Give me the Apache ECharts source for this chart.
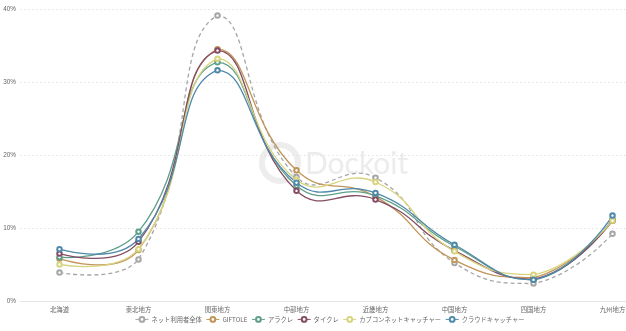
<!DOCTYPE html>
<html><head><meta charset="utf-8">
<script src="https://cdn.jsdelivr.net/npm/echarts@6/dist/echarts.min.js"></script>
<style>html,body{margin:0;padding:0;background:#fff}#c{width:626px;height:331px}</style>
</head><body><div id="c"></div>
<script>
const categories = ['北海道','東北地方','関東地方','中部地方','近畿地方','中国地方','四国地方','九州地方'];
const yTicks = [0, 10, 20, 30, 40];
const seriesNames = ['ネット利用者全体','GIFTOLE','アラクレ','タイクレ','カプコンネットキャッチャー','クラウドキャッチャー'];
const netAll   = [3.9, 5.7, 39.1, 17.0, 16.9, 5.2, 2.4, 9.2];
const giftole  = [5.8, 7.0, 34.5, 17.9, 14.3, 5.6, 3.2, 11.0];
const arakure  = [6.0, 9.5, 32.7, 15.8, 14.4, 7.5, 2.9, 11.2];
const taikure  = [6.5, 8.1, 34.3, 15.1, 13.9, 6.9, 3.0, 11.0];
const capcom   = [5.0, 7.1, 33.2, 16.6, 16.3, 6.8, 3.6, 11.0];
const cloud    = [7.1, 8.5, 31.6, 16.2, 14.8, 7.7, 2.9, 11.7];
const values = [netAll, giftole, arakure, taikure, capcom, cloud];
const colors = ['#a6a6a6', '#c0955a', '#5e9f8a', '#854c63', '#d8d47e', '#4f89aa'];
const SMOOTH = 0.5;

// classic (v4-style) smoothing path through pixel points
function smoothPathData(pts, smooth) {
  let minX = Infinity, minY = Infinity, maxX = -Infinity, maxY = -Infinity;
  pts.forEach(p => { minX = Math.min(minX, p[0]); maxX = Math.max(maxX, p[0]); minY = Math.min(minY, p[1]); maxY = Math.max(maxY, p[1]); });
  const clamp = c => [Math.min(Math.max(c[0], minX), maxX), Math.min(Math.max(c[1], minY), maxY)];
  let d = 'M' + pts[0][0] + ' ' + pts[0][1];
  let cp0 = pts[0].slice();
  for (let i = 1; i < pts.length; i++) {
    const p = pts[i], prev = pts[i - 1], next = pts[i + 1];
    let cp1, v = null, ratio = 0.5;
    if (!next) { cp1 = p.slice(); }
    else {
      v = [next[0] - prev[0], next[1] - prev[1]];
      const lp = Math.hypot(p[0] - prev[0], p[1] - prev[1]);
      const ln = Math.hypot(next[0] - p[0], next[1] - p[1]);
      ratio = ln / (ln + lp);
      cp1 = [p[0] - v[0] * smooth * (1 - ratio), p[1] - v[1] * smooth * (1 - ratio)];
    }
    const a = clamp(cp0), b = clamp(cp1);
    d += ' C' + a[0] + ' ' + a[1] + ' ' + b[0] + ' ' + b[1] + ' ' + p[0] + ' ' + p[1];
    if (v) cp0 = [p[0] + v[0] * smooth * ratio, p[1] + v[1] * smooth * ratio];
  }
  return d;
}

const lineSeries = seriesNames.map((n, i) => ({
  name: n, type: 'line', data: values[i],
  symbol: 'emptyCircle', symbolSize: 4.5, showSymbol: true,
  lineStyle: {width: 0, color: colors[i]},
  itemStyle: {color: colors[i], borderWidth: 0.8},
  z: 4
}));
const curveSeries = seriesNames.map((n, i) => ({
  name: n, type: 'custom',
  data: values[i].map((v, k) => [k, v]),
  encode: {x: 0, y: 1},
  z: 3, silent: true,
  renderItem: (params, api) => {
    if (params.dataIndex !== 0) return null;
    const pts = values[i].map((v, k) => api.coord([k, v]));
    return {
      type: 'path',
      shape: {pathData: smoothPathData(pts, SMOOTH)},
      style: {fill: 'none', stroke: colors[i], lineWidth: 1.3, lineDash: i === 0 ? [4, 3] : null}
    };
  }
}));

const chart = echarts.init(document.getElementById('c'), null, {renderer: 'canvas'});
chart.setOption({
  animation: false,
  backgroundColor: '#fff',
  color: colors,
  graphic: [
    {type: 'circle', shape: {cx: 280, cy: 163, r: 18}, style: {fill: 'none', stroke: '#ededed', lineWidth: 6}, z: 0},
    {type: 'text', left: 305, top: 149, style: {text: 'Dockoit', fontSize: 30, fontFamily: 'Lato', fill: '#ececec'}, z: 0}
  ],
  grid: {left: 20, right: -26, top: 9, bottom: 30, containLabel: false, outerBoundsMode: 'none'},
  legend: {
    top: 316, left: 135, padding: 0,
    itemWidth: 13, itemHeight: 6, itemGap: 4,
    textStyle: {fontSize: 6.3, color: '#666', fontFamily: 'Noto Sans CJK JP', padding: [0, 0, 0, -2]},
    data: seriesNames.map((n, i) => ({name: n, lineStyle: {width: 1, color: colors[i], opacity: 1, type: 'solid'}}))
  },
  xAxis: {
    type: 'category', data: categories, boundaryGap: true,
    axisLine: {lineStyle: {color: '#e4e4e4'}},
    axisTick: {show: false},
    axisLabel: {fontSize: 6.4, color: '#666', margin: 5, fontFamily: 'Noto Sans CJK JP'}
  },
  yAxis: {
    type: 'value', min: 0, max: 40, interval: 10,
    axisLine: {show: false}, axisTick: {show: false},
    axisLabel: {fontSize: 6.4, color: '#666', margin: 4, formatter: v => yTicks.includes(v) ? v + '%' : ''},
    splitLine: {lineStyle: {color: '#e2e2e2', type: [1.5, 2.5], width: 1}}
  },
  series: lineSeries.concat(curveSeries)
});
</script></body></html>
